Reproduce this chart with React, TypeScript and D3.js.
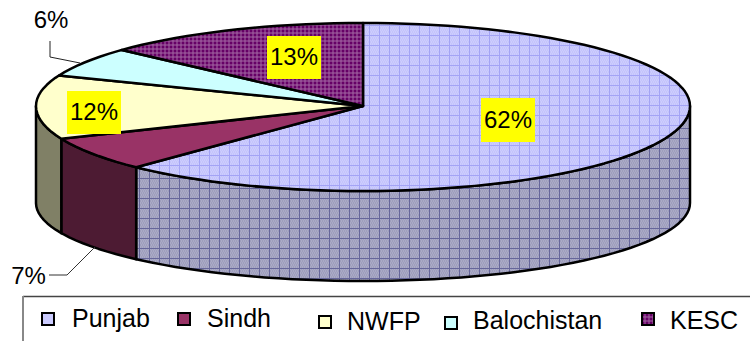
import React from "react";
import * as d3 from "d3";

const categories = ["Punjab", "Sindh", "NWFP", "Balochistan", "KESC"];
const values = [62.2, 6.5, 12.3, 5.8, 13.2];
const labels = ["62%", "7%", "12%", "6%", "13%"];
const topFills = ["url(#pTop)", "#993366", "#FFFFCC", "#CCFFFF", "url(#pKesc)"];
const sideFills = ["url(#pSide)", "#4D1B33", "#808066", "#668080", "#330033"];
const legendMarkerX = [42, 178, 319, 445, 642];
const legendMarkerY = [313, 313, 316, 317, 313];
const legendTextX = [72, 207, 347, 473, 670];
const legendTextY = [327, 327, 330, 329, 329];

const cx = 363, cy = 106, rx = 327, ryUp = 83, ryDown = 85, baseCy = 203, baseRy = 78;
const font = "'Liberation Sans', Arial, sans-serif";
const STEP = (2.5 * Math.PI) / 180;

const arcs = d3.pie<number>().sort(null).value((d) => d)(values);
const px = (a: number) => cx + rx * Math.sin(a);
const py = (a: number) => {
  const c = Math.cos(a);
  return cy - (c > 0 ? ryUp : ryDown) * c;
};
const pyBase = (a: number) => baseCy - baseRy * Math.cos(a);
const line = d3.line<[number, number]>();

function angles(a0: number, a1: number) {
  const r = d3.range(a0, a1, STEP);
  r.push(a1);
  return r;
}
function sector(a0: number, a1: number) {
  const pts = angles(a0, a1).map((a) => [px(a), py(a)] as [number, number]);
  return line([[cx, cy], ...pts]) + "Z";
}
function side(a0: number, a1: number) {
  const s = Math.max(a0, Math.PI / 2), e = Math.min(a1, (3 * Math.PI) / 2);
  if (e <= s) return null;
  const as = angles(s, e);
  const pts = as.map((a) => [px(a), py(a)] as [number, number]);
  const low = as.slice().reverse().map((a) => [px(a), pyBase(a)] as [number, number]);
  return line([...pts, ...low]) + "Z";
}

const dataLabels = [
  { i: 0, x: 481, y: 98, w: 54, h: 44 },
  { i: 2, x: 67, y: 91, w: 54, h: 43 },
  { i: 4, x: 267, y: 36, w: 54, h: 43 },
];

function Grid({ id, base, dither, line: stroke, ox, oy }: any) {
  const cells = d3.range(0, 5).flatMap((r) => d3.range(0, 5).map((c) => [c, r]));
  return (
    <pattern id={id} patternUnits="userSpaceOnUse" width={10} height={10} patternTransform={`translate(${ox},${oy})`}>
      <rect width={10} height={10} fill={base} />
      {cells.map(([c, r]) => (
        <rect key={`${c}-${r}`} x={c * 2 + (r % 2)} y={r * 2} width={1} height={2} fill={dither} />
      ))}
      <path d="M0,0.5H10M0.5,0V10" stroke={stroke} strokeWidth={1} fill="none" />
    </pattern>
  );
}

export default function App() {
  return (
    <svg width={750} height={341} style={{ position: "fixed", left: 0, top: 0, background: "#fff" }}>
      <defs>
        <Grid id="pTop" base="#CCCCFF" dither="#C4C4FA" line="#A3A3F5" ox={9} oy={5} />
        <Grid id="pSide" base="#AAAAC6" dither="#9E9EBC" line="#66669A" ox={9} oy={8} />
        <pattern id="pKesc" patternUnits="userSpaceOnUse" width={4} height={4}>
          <rect width={4} height={4} fill="#660066" />
          <path d="M0,1H4M1,0V4" stroke="#A468A4" strokeWidth={1} fill="none" />
        </pattern>
      </defs>

      {arcs.map((a, i) => {
        const d = side(a.startAngle, a.endAngle);
        return d ? <path key={i} d={d} fill={sideFills[i]} stroke="#000" strokeWidth={2.5} strokeLinejoin="round" /> : null;
      })}
      {arcs.map((a, i) => (
        <path key={i} d={sector(a.startAngle, a.endAngle)} fill={topFills[i]} stroke="#000" strokeWidth={2.5} strokeLinejoin="round" />
      ))}

      <path d="M50,41V57L80,63" fill="none" stroke="#222" strokeWidth={1} />
      <path d="M49,275H67L95,247" fill="none" stroke="#333" strokeWidth={1} />

      {dataLabels.map((l) => (
        <g key={l.i}>
          <rect x={l.x} y={l.y} width={l.w} height={l.h} fill="#FFFF00" />
          <text x={l.x + l.w / 2} y={l.y + l.h / 2 + 7.5} textAnchor="middle" fontFamily={font} fontSize={24} fill="#000">
            {labels[l.i]}
          </text>
        </g>
      ))}
      <text x={51} y={28} textAnchor="middle" fontFamily={font} fontSize={24} fill="#000">{labels[3]}</text>
      <text x={28.5} y={284} textAnchor="middle" fontFamily={font} fontSize={24} fill="#000">{labels[1]}</text>

      <path d="M750,296.5H23" fill="none" stroke="#444" strokeWidth={1.5} />
      <path d="M23,296V341" fill="none" stroke="#888" strokeWidth={2} />
      {categories.map((c, i) => (
        <g key={c}>
          <rect x={legendMarkerX[i]} y={legendMarkerY[i]} width={12} height={12}
            fill={i === 0 ? "#CCCCFF" : topFills[i]} stroke="#000" strokeWidth={2} />
          <text x={legendTextX[i]} y={legendTextY[i]} fontFamily={font} fontSize={25} fill="#000">{c}</text>
        </g>
      ))}
    </svg>
  );
}
